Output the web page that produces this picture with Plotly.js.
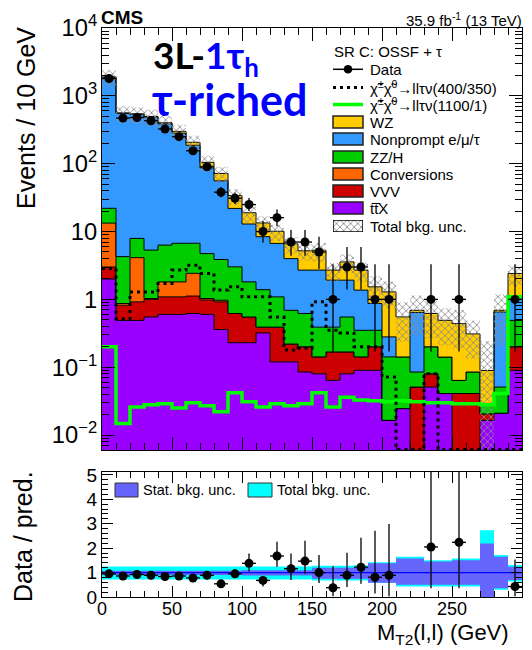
<!DOCTYPE html>
<html><head><meta charset="utf-8">
<script src="https://cdn.plot.ly/plotly-3.0.1.min.js"></script>
<style>html,body{margin:0;padding:0;background:#fff}#chart{width:532px;height:650px}</style>
</head><body><div id="chart"></div>
<script>
// ---------------- data ----------------
const binCenters = [5,15,25,35,45,55,65,75,85,95,105,115,125,135,145,155,165,175,185,195,205,215,225,235,245,255,265,275,285,295];
const binWidth = 10;
const ttX  = [2.0,0.49,0.49,0.55,0.6,0.6,0.62,0.6,0.36,0.23,0.23,0.32,0.12,0.12,0.085,0.08,0.064,0.08,0.09,0.09,0.0165,0.0246,0,0.051,0.041,0,0,0.0165,0.021,0.09];
const VVV  = [1.0,0.33,0.43,0.45,0.49,0.49,0.5,0.38,0.56,0.39,0.32,0.07,0.27,0.1,0.115,0.062,0.104,0.088,0.052,0.11,0,0,0.051,0.029,0,0.041,0.041,0.004,0,0.11];
const Conv = [10.3,0.05,3.2,0.03,0.72,0.72,1.3,0.05,0.05,0,0,0,0,0,0,0,0,0,0,0,0,0,0,0,0,0,0,0,0,0];
const ZZH  = [8.7,3.4,3.8,4.3,4.5,4.9,4.3,3.7,2.9,2.4,1.26,1.0,0.7,0.47,0.42,0.248,0.222,0.382,0.208,0.15,0.1255,0.117,0.034,0.12,0.1,0.023,0.044,0.008,0.03,0.29];
const NP   = [1860,548,525,480,380,275,180,82,52,18.9,11.1,7.0,5.6,3.3,2.08,2.31,1.53,1.37,1.02,0.52,0.138,0,0.555,0,0,0,0,0,0.6,0.6];
const WZ   = [20,8,10,12,15,18,20,18,16,12,6,5,3.4,2.6,2.5,2.6,0.78,1.65,1.33,0.66,1.01,0.41,0.05,0.42,0.35,0.376,0.225,0.061,0.04,1.32];
const sig400  = [2.86,0.52,1.29,1.29,1.72,2.7,3.19,2.41,1.37,1.53,1.09,1.09,0.55,0.18,0.19,0.92,0.35,0.32,0.2,0.2,0.072,0,0,0.08,0,0,0,0,0,0];
const sig1100 = [0.2,0.0148,0.026,0.028,0.029,0.025,0.03,0.027,0.022,0.042,0.031,0.026,0.029,0.027,0.029,0.042,0.026,0.036,0.033,0.032,0.031,0.032,0.031,0.030,0.030,0.029,0.029,0.028,0.041,1.09];
const dataVals = [1800,470,480,430,325,250,155,90,38,31,25,10,16,7,7,5,1,3,3,1,1,0,0,1,0,1,0,0,0,1];
const dataErrUp = [43,22.2,22.4,21.2,19.0,16.8,13.5,10.5,7.2,6.6,6.1,4.3,5.1,3.5,3.5,3.4,2.3,2.9,2.9,2.3,2.3,0,0,2.3,0,2.3,0,0,0,2.3];
const dataErrDn = [42,21.2,21.4,20.2,18.0,15.8,12.5,9.5,6.1,5.6,5.0,3.1,4.0,2.6,2.6,2.2,0.83,1.6,1.6,0.83,0.83,0,0,0.83,0,0.83,0,0,0,0.83];
const ratioVals  = [0.95,0.86,0.92,0.89,0.84,0.86,0.78,0.89,0.54,0.95,1.38,0.68,1.68,1.16,1.47,1.0,0.38,0.89,1.22,0.81,0.89,0,0,2.05,0,2.24,0,0,0,0.43];
const ratioErrUp = [0.03,0.04,0.04,0.05,0.05,0.06,0.07,0.1,0.1,0.2,0.4,0.18,0.58,0.62,0.83,0.72,0.89,0.92,1.21,1.9,2.1,0,0,4,0,4,0,0,0,1.11];
const ratioErrDn = [0.03,0.04,0.04,0.05,0.05,0.06,0.07,0.1,0.1,0.16,0.34,0.25,0.44,0.46,0.52,0.43,0.35,0.48,0.68,0.67,0.86,0,0,1.69,0,1.88,0,0,0,0.4];
const totUncHi  = [1.25,1.25,1.25,1.25,1.25,1.25,1.25,1.25,1.25,1.25,1.25,1.25,1.25,1.25,1.25,1.28,1.28,1.28,1.3,1.42,1.42,1.65,1.65,1.51,1.51,1.58,1.58,2.73,1.72,1.31];
const totUncLo  = [0.72,0.72,0.72,0.72,0.72,0.72,0.72,0.72,0.72,0.72,0.72,0.72,0.72,0.72,0.72,0.68,0.68,0.68,0.68,0.57,0.57,0.43,0.43,0.43,0.43,0.43,0.43,0,0.3,0.64];
const statUncHi = [1.08,1.08,1.08,1.08,1.08,1.08,1.08,1.08,1.08,1.08,1.1,1.1,1.1,1.1,1.1,1.2,1.2,1.2,1.2,1.38,1.38,1.58,1.58,1.45,1.45,1.51,1.51,2.19,1.65,1.24];
const statUncLo = [0.9,0.9,0.9,0.9,0.9,0.9,0.9,0.9,0.9,0.9,0.88,0.88,0.88,0.88,0.88,0.75,0.75,0.75,0.75,0.58,0.58,0.5,0.5,0.5,0.5,0.5,0.5,0,0.36,0.7];
const ratioRef = 1;

const bkgNames  = ['tt\u0305X','VVV','Conversions','ZZ/H','Nonprompt e/\u03bc/\u03c4','WZ'];
const bkgColors = ['#9900ff','#cc0000','#ff6600','#00cc00','#3399ff','#ffcc00'];
const bkgVals   = [ttX,VVV,Conv,ZZH,NP,WZ];

// ---------------- geometry helpers (layout only) ----------------
const PL=102, PR=522, PT=28, PB=597;
const px = v => (v-PL)/(PR-PL);
const py = v => (PB-v)/(PB-PT);
const yMin=-2.22, yMax=4;
const tiny = 1e-5, bottomVal = Math.pow(10,yMin)*1.02;
const edges = binCenters.map(c=>c-binWidth/2).concat([binCenters[binCenters.length-1]+binWidth/2]);
const stepY = v => v.concat([v[v.length-1]]);

// cumulative stack
const cum=[]; let run=binCenters.map(()=>0);
bkgVals.forEach(c=>{ run=run.map((r,i)=>r+c[i]); cum.push(run.slice()); });
const total=cum[cum.length-1];

const traces=[];
traces.push({x:edges,y:stepY(binCenters.map(()=>tiny)),mode:'lines',line:{width:0,shape:'hv'},showlegend:false,hoverinfo:'skip'});
cum.forEach((c,k)=>{
  traces.push({x:edges,y:stepY(c.map(v=>Math.max(v,tiny))),mode:'lines',line:{shape:'hv',color:'#000',width:1},
    fill:'tonexty',fillcolor:bkgColors[k],showlegend:false,hoverinfo:'skip',name:bkgNames[k]});
});
// total bkg uncertainty hatch
traces.push({x:edges,y:stepY(total.map((t,i)=>Math.max(t*totUncLo[i],tiny))),mode:'lines',line:{width:0,shape:'hv'},showlegend:false,hoverinfo:'skip'});
traces.push({x:edges,y:stepY(total.map((t,i)=>t*totUncHi[i])),mode:'lines',line:{width:0,shape:'hv'},showlegend:false,hoverinfo:'skip',
  fill:'tonexty',fillcolor:'rgba(0,0,0,0)',fillpattern:{shape:'x',fgcolor:'#8a8a8a',bgcolor:'rgba(0,0,0,0)',size:5,solidity:0.3}});
// signals
traces.push({x:edges,y:stepY(sig1100.map(v=>Math.max(v,bottomVal))),mode:'lines',line:{shape:'hv',color:'#00ff00',width:3.5},showlegend:false,hoverinfo:'skip'});
traces.push({x:edges,y:stepY(sig400.map(v=>Math.max(v,bottomVal))),mode:'lines',line:{shape:'hv',color:'#000',width:3,dash:'3px,4px'},showlegend:false,hoverinfo:'skip'});
// data
const dIdx = dataVals.map((v,i)=>v>0?i:-1).filter(i=>i>=0);
traces.push({x:dIdx.map(i=>binCenters[i]),y:dIdx.map(i=>dataVals[i]),mode:'markers',marker:{color:'#000',size:9},
  error_y:{type:'data',array:dIdx.map(i=>dataErrUp[i]),arrayminus:dIdx.map(i=>dataErrDn[i]),color:'#000',thickness:1.3,width:0},
  error_x:{type:'data',array:dIdx.map(()=>binWidth/2),color:'#000',thickness:1.3,width:0},showlegend:false,hoverinfo:'skip'});

// ratio panel
const rb=(arr)=>({x:edges,y:stepY(arr),xaxis:'x2',yaxis:'y2',mode:'lines',line:{width:0,shape:'hv'},showlegend:false,hoverinfo:'skip'});
traces.push(rb(totUncLo));
traces.push(Object.assign(rb(totUncHi),{fill:'tonexty',fillcolor:'#00ffff'}));
traces.push(rb(statUncLo));
traces.push(Object.assign(rb(statUncHi),{fill:'tonexty',fillcolor:'#6666ff'}));
traces.push({x:[edges[0],edges[edges.length-1]],y:[ratioRef,ratioRef],xaxis:'x2',yaxis:'y2',mode:'lines',line:{color:'#0000ff',width:1.2},showlegend:false,hoverinfo:'skip'});
const rIdx = ratioVals.map((v,i)=>v>0?i:-1).filter(i=>i>=0);
traces.push({x:rIdx.map(i=>binCenters[i]),y:rIdx.map(i=>ratioVals[i]),xaxis:'x2',yaxis:'y2',mode:'markers',marker:{color:'#000',size:9},
  error_y:{type:'data',array:rIdx.map(i=>ratioErrUp[i]),arrayminus:rIdx.map(i=>ratioErrDn[i]),color:'#000',thickness:1.3,width:0},
  error_x:{type:'data',array:rIdx.map(()=>binWidth/2),color:'#000',thickness:1.3,width:0},showlegend:false,hoverinfo:'skip'});

// legend hatch swatch on a tiny hidden axis
traces.push({x:[0,1,1,0,0],y:[0,0,1,1,0],xaxis:'x3',yaxis:'y3',mode:'lines',line:{color:'#000',width:1.5},fill:'toself',fillcolor:'rgba(0,0,0,0)',
  fillpattern:{shape:'x',fgcolor:'#8a8a8a',bgcolor:'rgba(0,0,0,0)',size:5,solidity:0.3},showlegend:false,hoverinfo:'skip'});

// ---------------- legend (manual) ----------------
const FONT='Liberation Sans, Arial, sans-serif';
const shapes=[], ann=[];
const symX0=333, symX1=363, txtX=369;
const rows={data:69.3,s400:87.5,s1100:104.5};
shapes.push({type:'line',xref:'paper',yref:'paper',x0:px(symX0),x1:px(symX1),y0:py(rows.data),y1:py(rows.data),line:{color:'#000',width:1.5}});
shapes.push({type:'circle',xref:'paper',yref:'paper',x0:px(348-4.3),x1:px(348+4.3),y0:py(rows.data+4.3),y1:py(rows.data-4.3),fillcolor:'#000',line:{color:'#000',width:0}});
shapes.push({type:'line',xref:'paper',yref:'paper',x0:px(symX0),x1:px(symX1),y0:py(rows.s400),y1:py(rows.s400),line:{color:'#000',width:3,dash:'3px,4px'}});
shapes.push({type:'line',xref:'paper',yref:'paper',x0:px(symX0),x1:px(symX1),y0:py(rows.s1100),y1:py(rows.s1100),line:{color:'#00ff00',width:3.5}});
const legTexts=[['SR C: OSSF + \u03c4',51.7,symX0],['Data',rows.data,txtX],
  ['\u03c7\u0303<sup>\u00b1</sup>\u03c7\u0303<sup>0</sup>\u2192ll\u03c4\u03bd(400/350)',rows.s400,txtX],
  ['\u03c7\u0303<sup>\u00b1</sup>\u03c7\u0303<sup>0</sup>\u2192ll\u03c4\u03bd(1100/1)',rows.s1100,txtX]];
const boxRows=[122,139,157,174,191,208];
for(let j=0;j<6;j++){
  const k=5-j; const yc=boxRows[j];
  shapes.push({type:'rect',xref:'paper',yref:'paper',x0:px(symX0),x1:px(symX1),y0:py(yc+6),y1:py(yc-6),fillcolor:bkgColors[k],line:{color:'#222',width:1.5}});
  legTexts.push([bkgNames[k],yc,txtX]);
}
legTexts.push(['Total bkg. unc.',226,txtX]);
legTexts.forEach(t=>ann.push({xref:'paper',yref:'paper',x:px(t[2]),y:py(t[1]),xanchor:'left',yanchor:'middle',text:t[0],showarrow:false,font:{family:FONT,size:15,color:'#000'},borderpad:0}));

// ratio legend
shapes.push({type:'rect',xref:'paper',yref:'paper',x0:px(115),x1:px(138),y0:py(497),y1:py(483),fillcolor:'#6666ff',line:{color:'#333',width:1}});
shapes.push({type:'rect',xref:'paper',yref:'paper',x0:px(248),x1:px(272),y0:py(497),y1:py(483),fillcolor:'#00ffff',line:{color:'#333',width:1}});
ann.push({xref:'paper',yref:'paper',x:px(142),y:py(490),xanchor:'left',yanchor:'middle',text:'Stat. bkg. unc.',showarrow:false,font:{family:FONT,size:14.5,color:'#000'},borderpad:0});
ann.push({xref:'paper',yref:'paper',x:px(276),y:py(490),xanchor:'left',yanchor:'middle',text:'Total bkg. unc.',showarrow:false,font:{family:FONT,size:14.5,color:'#000'},borderpad:0});

// header texts
ann.push({xref:'paper',yref:'paper',x:px(100),y:py(18),xanchor:'left',yanchor:'middle',text:'<b>CMS</b>',showarrow:false,font:{family:FONT,size:19,color:'#000'},borderpad:0});
ann.push({xref:'paper',yref:'paper',x:px(523),y:py(19),xanchor:'right',yanchor:'middle',text:'35.9 fb<sup>-1</sup> (13 TeV)',showarrow:false,font:{family:FONT,size:15,color:'#000'},borderpad:0});
ann.push({xref:'paper',yref:'paper',x:px(152),y:py(58),xanchor:'left',yanchor:'middle',text:'<b>3L-<span style="color:#0000ff">1\u03c4<sub>h</sub></span></b>',showarrow:false,font:{family:'Lato, Open Sans, sans-serif',size:37,color:'#000'},borderpad:0});
ann.push({xref:'paper',yref:'paper',x:px(151),y:py(100),xanchor:'left',yanchor:'middle',text:'<b>\u03c4-riched</b>',showarrow:false,font:{family:'Lato, Open Sans, sans-serif',size:43,color:'#0000ff'},borderpad:0});
// axis titles
ann.push({xref:'paper',yref:'paper',x:px(26),y:py(118),xanchor:'center',yanchor:'middle',textangle:-90,text:'Events / 10 GeV',showarrow:false,font:{family:FONT,size:25,color:'#000'}});
ann.push({xref:'paper',yref:'paper',x:px(23),y:py(537),xanchor:'center',yanchor:'middle',textangle:-90,text:'Data / pred.',showarrow:false,font:{family:FONT,size:25,color:'#000'}});
ann.push({xref:'paper',yref:'paper',x:px(510),y:py(649),xanchor:'right',yanchor:'bottom',text:'M<sub>T2</sub>(l,l) (GeV)',showarrow:false,font:{family:FONT,size:22,color:'#000'},borderpad:0});

const axBase={showline:true,linecolor:'#000',linewidth:1,mirror:'allticks',ticks:'inside',tickcolor:'#000',showgrid:false,zeroline:false,
  tickfont:{family:FONT,size:19,color:'#000'}};
const layout={
  width:532,height:650,margin:{l:PL,r:532-PR,t:PT,b:650-PB},
  paper_bgcolor:'#fff',plot_bgcolor:'#fff',showlegend:false,
  xaxis:Object.assign({},axBase,{domain:[0,1],range:[0,300],anchor:'y',showticklabels:false,dtick:50,tick0:0,ticklen:13,
     minor:{dtick:10,ticklen:7,ticks:'inside',tickcolor:'#000',showgrid:false}}),
  yaxis:Object.assign({},axBase,{type:'log',range:[yMin,yMax],domain:[py(450),1],anchor:'x',dtick:1,exponentformat:'power',ticklen:13,
     minor:{dtick:'D1',ticklen:7,ticks:'inside',tickcolor:'#000',showgrid:false}}),
  xaxis2:Object.assign({},axBase,{domain:[0,1],range:[0,300],anchor:'y2',dtick:50,tick0:0,ticklen:11,ticklabelstandoff:-5,
     tickfont:{family:FONT,size:18,color:'#000'},
     minor:{dtick:10,ticklen:6,ticks:'inside',tickcolor:'#000',showgrid:false}}),
  yaxis2:Object.assign({},axBase,{range:[0,5.12],domain:[0,py(472)],anchor:'x2',dtick:1,tick0:0,ticklen:11,
     minor:{dtick:0.2,ticklen:6,ticks:'inside',tickcolor:'#000',showgrid:false}}),
  xaxis3:{domain:[px(symX0),px(symX1)],range:[0,1],visible:false,anchor:'y3',fixedrange:true},
  yaxis3:{domain:[py(232),py(220)],range:[0,1],visible:false,anchor:'x3',fixedrange:true},
  shapes:shapes,annotations:ann
};
Plotly.newPlot('chart',traces,layout,{staticPlot:true,displayModeBar:false});
</script></body></html>
